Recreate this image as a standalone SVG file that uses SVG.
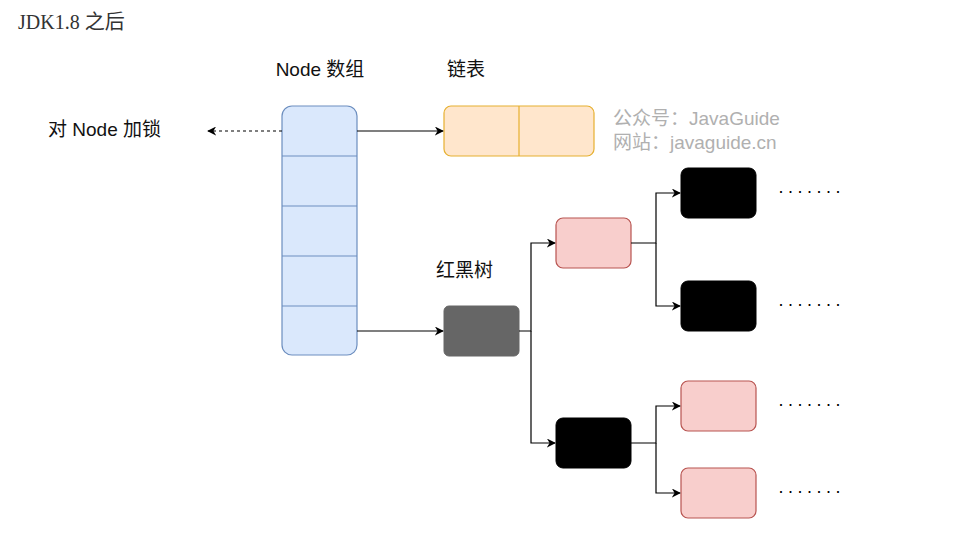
<svg xmlns="http://www.w3.org/2000/svg" width="964" height="543" viewBox="0 0 964 543">
<defs>
<marker id="a" viewBox="0 0 10 10" refX="9" refY="5" markerWidth="9" markerHeight="9" orient="auto" markerUnits="userSpaceOnUse"><path d="M0,0 L10,5 L0,10 L3,5 Z" fill="#000"/></marker>
<style>
.t{font-family:"Liberation Sans","Noto Sans CJK SC",sans-serif;font-size:19px;fill:#111}
.w{font-family:"Liberation Sans","Noto Sans CJK SC",sans-serif;font-size:19px;fill:#b0b0b0}
.c{fill:none;stroke:#000;stroke-width:1.2}
.arr{fill:#dae8fc;stroke:#6c8ebf;stroke-width:1.2}
.red{fill:#f8cecc;stroke:#b85450;stroke-width:1.2}
.blk{fill:#000;stroke:#000}
.d{font-family:"Liberation Sans",sans-serif;font-size:18px;fill:#000;letter-spacing:3.5px}
</style>
</defs>
<rect width="964" height="543" fill="#fff"/>
<text x="18" y="29" style="font-family:'Liberation Serif','Noto Sans CJK SC',serif;font-size:20px;fill:#333">JDK1.8 之后</text>
<text class="t" x="320" y="76" text-anchor="middle">Node 数组</text>
<text class="t" x="447" y="76">链表</text>
<text class="t" x="48" y="136">对 Node 加锁</text>
<text class="t" x="436" y="277">红黑树</text>
<text class="w" x="613" y="125">公众号：JavaGuide</text>
<text class="w" x="613" y="149">网站：javaguide.cn</text>
<g id="array">
<rect class="arr" x="282" y="106" width="75" height="249" rx="10"/>
<path d="M282 156H357M282 206H357M282 256H357M282 306H357" stroke="#6c8ebf" stroke-width="1.2"/>
</g>
<g id="list"><rect x="444" y="106" width="150" height="50" rx="7" fill="#ffe6cc" stroke="#e6b030" stroke-width="1.2"/><path d="M519 106V156" stroke="#e6b030" stroke-width="1.2"/></g>
<g id="root"><rect x="444" y="306" width="75" height="50" rx="5" fill="#666" stroke="#666"/></g>
<g id="r1"><rect class="red" x="556" y="218" width="75" height="50" rx="7"/></g>
<g id="b1"><rect class="blk" x="556" y="418" width="75" height="50" rx="7"/></g>
<g id="c1"><rect class="blk" x="681" y="168" width="75" height="50" rx="7"/></g>
<g id="c2"><rect class="blk" x="681" y="281" width="75" height="50" rx="7"/></g>
<g id="c3"><rect class="red" x="681" y="381" width="75" height="50" rx="7"/></g>
<g id="c4"><rect class="red" x="681" y="468" width="75" height="50" rx="7"/></g>
<g id="dots">
<text class="d" x="778" y="197">·······</text>
<text class="d" x="778" y="310">·······</text>
<text class="d" x="778" y="410">·······</text>
<text class="d" x="778" y="497">·······</text>
</g>
<g id="connectors">
<path class="c" d="M282 131H208" stroke-dasharray="3 3" marker-end="url(#a)"/>
<path class="c" d="M357 131H443" marker-end="url(#a)"/>
<path class="c" d="M357 331H443" marker-end="url(#a)"/>
<path class="c" d="M519 331H531V243H555" marker-end="url(#a)"/>
<path class="c" d="M531 331V443H555" marker-end="url(#a)"/>
<path class="c" d="M631 243H656V193H680" marker-end="url(#a)"/>
<path class="c" d="M656 243V306H680" marker-end="url(#a)"/>
<path class="c" d="M631 443H656V406H680" marker-end="url(#a)"/>
<path class="c" d="M656 443V493H680" marker-end="url(#a)"/>
</g>
</svg>
